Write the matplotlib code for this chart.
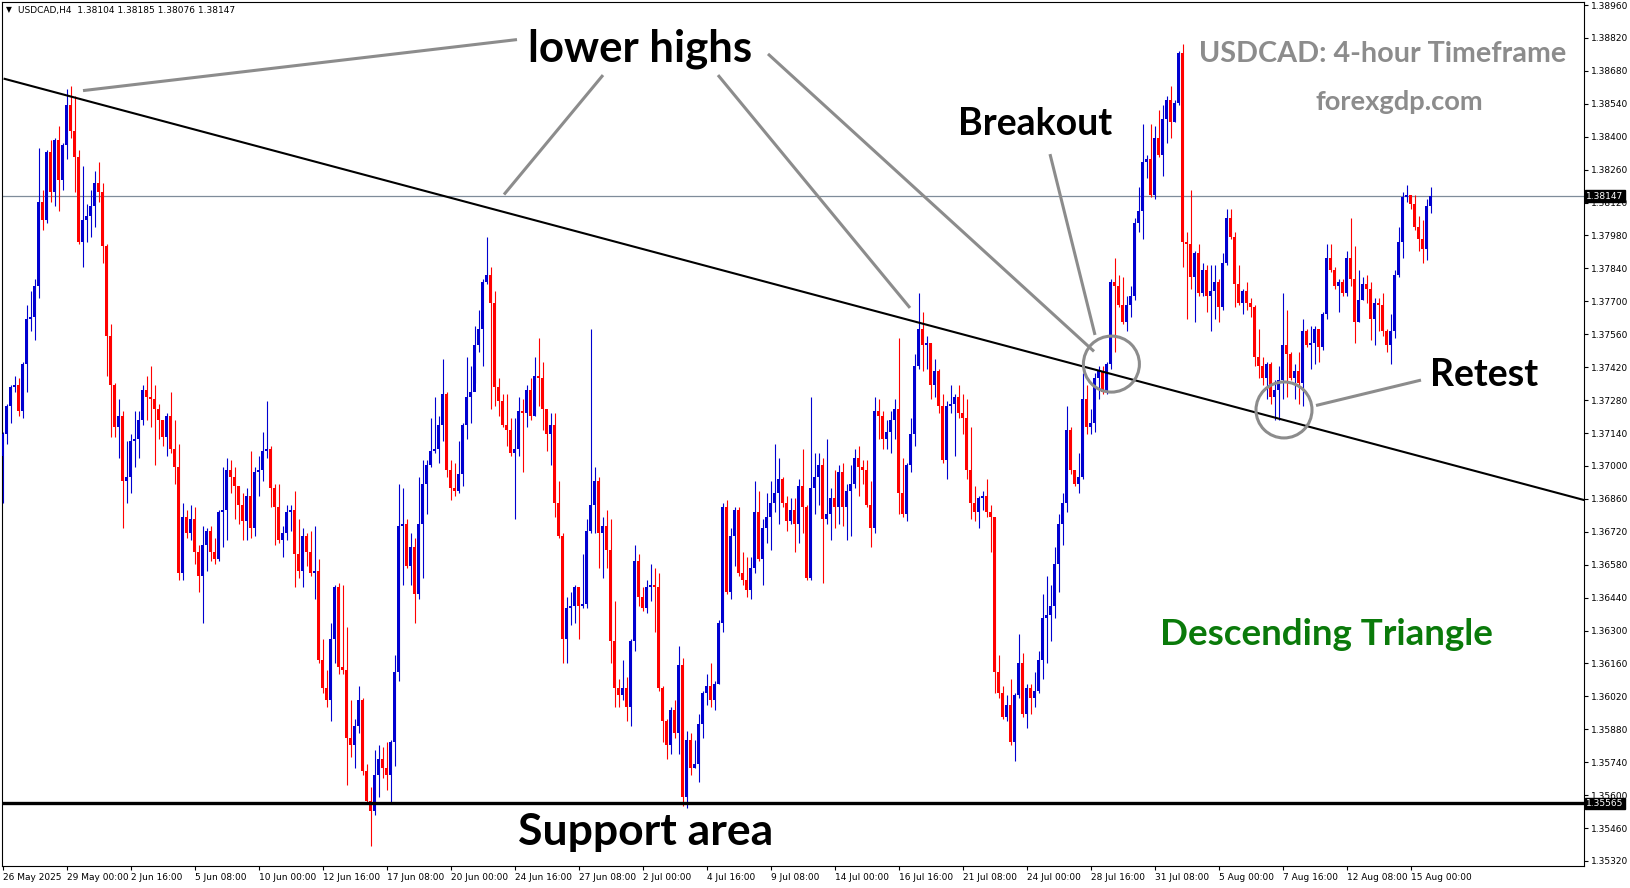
import numpy as np
import matplotlib.pyplot as plt
from matplotlib.patches import Ellipse
from matplotlib.transforms import blended_transform_factory

# prices are stored as pips above BASE
BASE = 1.35064
PIP = 0.0001

first_open = 198
close = [207, 219, 227, 228, 217, 237, 256, 257, 270, 306, 298, 327, 310, 332, 315, 330, 347, 336, 325, 289,
         298, 300, 304, 314, 310, 287, 249, 228, 210, 215, 187, 189, 204, 205, 213, 226, 223, 222, 218, 213,
         206, 215, 201, 193, 148, 172, 165, 171, 157, 147, 160, 166, 157, 154, 174, 175, 192, 189, 185, 177,
         170, 181, 167, 191, 192, 200, 201, 184, 176, 162, 165, 174, 175, 156, 149, 164, 157, 148, 149, 111,
         99, 94, 120, 142, 108, 107, 78, 75, 83, 94, 64, 51, 47, 62, 69, 65, 62, 76, 106, 168,
         169, 151, 159, 139, 169, 186, 194, 200, 201, 211, 224, 192, 184, 183, 190, 211, 223, 225, 245, 252,
         272, 275, 263, 227, 221, 211, 209, 199, 201, 217, 216, 226, 215, 232, 231, 218, 207, 211, 178, 164,
         120, 133, 134, 142, 134, 135, 166, 177, 187, 165, 168, 158, 119, 99, 96, 99, 91, 119, 153, 138,
         133, 142, 143, 142, 99, 85, 75, 90, 80, 109, 53, 77, 65, 67, 84, 97, 100, 94, 101, 127,
         176, 140, 164, 175, 148, 145, 141, 150, 174, 154, 167, 172, 178, 182, 188, 178, 170, 175, 169, 185,
         176, 146, 184, 189, 194, 171, 173, 180, 176, 191, 176, 183, 186, 197, 193, 192, 177, 167, 217, 215,
         205, 208, 213, 218, 182, 173, 194, 207, 236, 252, 245, 246, 228, 234, 219, 196, 219, 220, 223, 216,
         214, 192, 178, 174, 180, 181, 174, 172, 106, 97, 87, 92, 76, 96, 110, 88, 99, 95, 98, 111,
         129, 130, 134, 152, 169, 178, 209, 192, 186, 189, 222, 210, 212, 231, 234, 225, 237, 272, 270, 262,
         255, 262, 266, 297, 302, 323, 324, 309, 333, 326, 341, 349, 340, 348, 369, 289, 288, 274, 284, 267,
         277, 266, 268, 272, 261, 280, 299, 291, 271, 263, 268, 263, 261, 240, 236, 231, 237, 223, 226, 230,
         245, 241, 231, 234, 229, 251, 245, 246, 252, 244, 258, 282, 277, 270, 272, 267, 282, 273, 255, 264,
         271, 269, 256, 263, 262, 251, 245, 251, 275, 289, 308, 309, 305, 295, 290, 286, 304, 308.3]
high = [208, 220, 228, 232, 231, 238, 262, 268, 273, 329, 311, 328, 332, 333, 338, 331, 354, 355, 351, 328,
        321, 305, 311, 319, 323, 314, 288, 254, 229, 222, 217, 204, 207, 217, 217, 228, 232, 236, 228, 220,
        213, 216, 225, 213, 203, 178, 175, 177, 176, 160, 168, 167, 168, 163, 175, 193, 197, 196, 193, 185,
        182, 184, 200, 193, 198, 208, 221, 202, 186, 186, 168, 177, 177, 183, 171, 167, 165, 166, 168, 154,
        120, 107, 127, 143, 144, 143, 125, 94, 86, 100, 95, 67, 57, 73, 75, 74, 76, 77, 113, 186,
        184, 171, 165, 163, 189, 196, 196, 214, 223, 215, 239, 225, 196, 195, 204, 212, 240, 236, 253, 260,
        273, 291, 278, 268, 231, 224, 224, 214, 214, 223, 222, 228, 231, 240, 248, 238, 217, 216, 216, 187,
        165, 138, 140, 143, 142, 156, 171, 252, 193, 189, 172, 175, 171, 136, 103, 111, 104, 120, 160, 156,
        142, 145, 152, 150, 148, 100, 86, 91, 94, 117, 112, 81, 80, 77, 88, 98, 105, 110, 102, 128,
        178, 179, 167, 176, 176, 157, 155, 155, 187, 183, 171, 182, 187, 203, 197, 189, 181, 180, 180, 188,
        201, 177, 223, 199, 199, 197, 205, 184, 192, 194, 195, 186, 194, 201, 202, 196, 196, 187, 223, 222,
        217, 213, 217, 222, 248, 197, 195, 214, 241, 267, 259, 249, 246, 239, 235, 224, 221, 228, 224, 228,
        224, 222, 210, 185, 181, 183, 188, 177, 172, 113, 100, 96, 103, 97, 122, 114, 101, 101, 106, 115,
        139, 147, 143, 159, 173, 182, 219, 210, 192, 199, 233, 228, 218, 233, 236, 236, 238, 273, 282, 275,
        274, 266, 270, 299, 312, 339, 326, 339, 338, 345, 347, 351, 355, 349, 370, 373, 293, 311, 285, 288,
        280, 279, 279, 279, 273, 284, 303, 303, 293, 279, 269, 272, 265, 262, 252, 240, 238, 238, 230, 236,
        267, 260, 242, 237, 242, 256, 252, 253, 253, 252, 259, 288, 288, 278, 273, 273, 285, 299, 287, 277,
        274, 275, 272, 265, 265, 267, 252, 258, 277, 295, 310, 313, 309, 309, 300, 298, 307, 312.1]
low = [178, 203, 212, 225, 215, 214, 225, 251, 247, 265, 294, 297, 306, 304, 302, 311, 324, 333, 310, 288,
       278, 289, 291, 295, 306, 280, 232, 206, 206, 197, 167, 178, 182, 193, 197, 211, 213, 210, 194, 205,
       202, 198, 199, 186, 145, 145, 163, 162, 152, 140, 127, 149, 153, 152, 153, 159, 162, 182, 171, 169,
       162, 162, 163, 164, 181, 187, 197, 176, 160, 161, 155, 162, 166, 142, 146, 142, 151, 147, 137, 110,
       97, 91, 85, 110, 105, 105, 58, 70, 65, 80, 62, 50, 32, 45, 53, 61, 56, 50, 66, 102,
       143, 150, 143, 127, 137, 146, 173, 193, 199, 195, 204, 189, 179, 181, 182, 185, 205, 212, 229, 242,
       236, 271, 218, 219, 215, 210, 202, 198, 171, 198, 191, 210, 213, 215, 219, 209, 200, 194, 172, 163,
       110, 110, 126, 127, 120, 133, 133, 165, 165, 150, 146, 150, 110, 91, 91, 94, 85, 83, 115, 134,
       132, 131, 136, 123, 98, 76, 69, 71, 78, 71, 49, 48, 62, 65, 59, 78, 92, 91, 90, 101,
       123, 139, 137, 151, 147, 143, 138, 137, 148, 153, 143, 161, 158, 174, 169, 176, 166, 169, 157, 161,
       165, 145, 145, 173, 177, 144, 169, 162, 167, 169, 168, 162, 164, 184, 181, 186, 176, 159, 165, 205,
       201, 201, 199, 205, 173, 172, 170, 191, 202, 235, 234, 235, 222, 223, 216, 195, 188, 216, 198, 214,
       207, 188, 171, 170, 167, 175, 172, 157, 97, 95, 86, 85, 75, 68, 95, 87, 82, 88, 91, 97,
       103, 110, 119, 129, 140, 160, 174, 190, 185, 182, 188, 207, 207, 208, 222, 224, 224, 235, 242, 261,
       254, 251, 257, 264, 293, 290, 316, 308, 307, 325, 317, 331, 333, 340, 347, 278, 256, 269, 255, 266,
       266, 259, 251, 256, 255, 260, 279, 290, 261, 262, 258, 260, 257, 236, 231, 228, 222, 220, 213, 213,
       222, 223, 230, 222, 220, 219, 244, 235, 237, 238, 243, 256, 276, 269, 259, 266, 266, 270, 246, 255,
       264, 263, 247, 245, 251, 249, 242, 237, 248, 274, 282, 306, 303, 294, 285, 280, 281, 301.2]

date_labels = ["26 May 2025", "29 May 00:00", "2 Jun 16:00", "5 Jun 08:00", "10 Jun 00:00", "12 Jun 16:00",
               "17 Jun 08:00", "20 Jun 00:00", "24 Jun 16:00", "27 Jun 08:00", "2 Jul 00:00", "4 Jul 16:00",
               "9 Jul 08:00", "14 Jul 00:00", "16 Jul 16:00", "21 Jul 08:00", "24 Jul 00:00", "28 Jul 16:00",
               "31 Jul 08:00", "5 Aug 00:00", "7 Aug 16:00", "12 Aug 08:00", "15 Aug 00:00"]
bars_per_label = 16

last_price = 1.38147
support_level = 1.35565
header = "USDCAD,H4  1.38104 1.38185 1.38076 1.38147"

# annotation geometry, (bar index, price)
trend_line = [(0.5, 1.38646), (395.35, 1.36855)]
pointer_lines = [
    [(128.6, 1.38813), (20.1, 1.38596)],
    [(150.1, 1.38662), (125.35, 1.38154)],
    [(178.85, 1.38662), (226.85, 1.37672)],
    [(191.35, 1.38752), (272.85, 1.37487)],
    [(261.85, 1.38326), (273.1, 1.37557)],
    [(354.6, 1.37365), (328.35, 1.37257)],
]
circles = [(277.2, 1.37433), (320.35, 1.37238)]

W, H = 1631, 888
fig = plt.figure(figsize=(W / 100, H / 100), dpi=100)
fig.patch.set_facecolor('white')
ax = fig.add_axes([2 / W, 22 / H, 1582 / W, 864 / H])

c = np.array(close, dtype=float)
hi = np.array(high, dtype=float)
lo = np.array(low, dtype=float)
o = np.r_[first_open, c[:-1]]
x = np.arange(len(c))
up = c >= o
cols = np.where(up, '#0000D0', '#FF0000')

ax.vlines(x, BASE + lo * PIP, BASE + hi * PIP, colors=cols, linewidth=0.8, zorder=3)
body_lo = np.minimum(o, c)
body_h = np.maximum(np.abs(c - o), 0.45)
ax.bar(x, body_h * PIP, bottom=BASE + body_lo * PIP, width=0.78, color=cols, linewidth=0, zorder=4)

# levels
ax.axhline(last_price, color='#7F8C9A', linewidth=0.9, zorder=2)
ax.axhline(support_level, color='black', linewidth=2.4, zorder=5)
ax.plot([p[0] for p in trend_line], [p[1] for p in trend_line], color='black', linewidth=1.5, zorder=5)

grey = '#8C8C8C'
for seg in pointer_lines:
    ax.plot([seg[0][0], seg[1][0]], [seg[0][1], seg[1][1]], color=grey, linewidth=2.2,
            solid_capstyle='butt', zorder=6)
for cx, cy in circles:
    ax.add_patch(Ellipse((cx, cy), width=56 / 4, height=56 / 23516, fill=False,
                         edgecolor=grey, linewidth=2.2, zorder=6))

font = 'Lato'
ax.text(159.35, 1.38775, 'lower highs', fontsize=31.5, fontweight='bold', family=font,
        ha='center', va='center', color='black', zorder=7)
ax.text(258.1, 1.38455, 'Breakout', fontsize=27, fontweight='bold', family=font,
        ha='center', va='center', color='black', zorder=7)
ax.text(370.35, 1.37387, 'Retest', fontsize=27, fontweight='bold', family=font,
        ha='center', va='center', color='black', zorder=7)
ax.text(160.85, 1.35443, 'Support area', fontsize=32, fontweight='bold', family=font,
        ha='center', va='center', color='black', zorder=7)
ax.text(330.85, 1.36284, 'Descending Triangle', fontsize=26.5, fontweight='bold', family=font,
        ha='center', va='center', color='#0A7A0A', zorder=7)
ax.text(345.1, 1.38752, 'USDCAD: 4-hour Timeframe', fontsize=20.7, fontweight='bold', family=font,
        ha='center', va='center', color='#8C8C8C', zorder=7)
ax.text(349.1, 1.38548, 'forexgdp.com', fontsize=19.7, fontweight='bold', family=font,
        ha='center', va='center', color='#8C8C8C', zorder=7)

fig.text(6 / W, 1 - 10 / H, '\u25BC', fontsize=5.5, ha='left', va='center')
fig.text(18 / W, 1 - 10 / H, header, fontsize=6.5, ha='left', va='center')

ax.set_xlim(-0.15, 395.35)
ax.set_ylim(1.352987, 1.389728)

ax.set_xticks(np.arange(len(date_labels)) * bars_per_label)
ax.set_xticklabels(date_labels, fontsize=6.5, ha='left')
ax.tick_params(axis='x', direction='out', length=3, pad=2, width=0.8)

ticks = np.round(np.arange(1.3532, 1.38961, 0.0014), 5)
ax.yaxis.tick_right()
ax.set_yticks(ticks)
ax.set_yticklabels(['%.5f' % t for t in ticks], fontsize=6.5)
ax.tick_params(axis='y', direction='out', length=3, pad=2, width=0.8)

tr = blended_transform_factory(ax.transAxes, ax.transData)
for lvl in (last_price, support_level):
    ax.text(1.0015, lvl, '%.5f' % lvl, transform=tr, fontsize=6.5, color='white', ha='left', va='center',
            bbox=dict(boxstyle='square,pad=0.15', facecolor='black', edgecolor='black'), zorder=10,
            clip_on=False)

for s in ax.spines.values():
    s.set_color('black')
    s.set_linewidth(0.8)

fig.savefig('out.png', dpi=100)
